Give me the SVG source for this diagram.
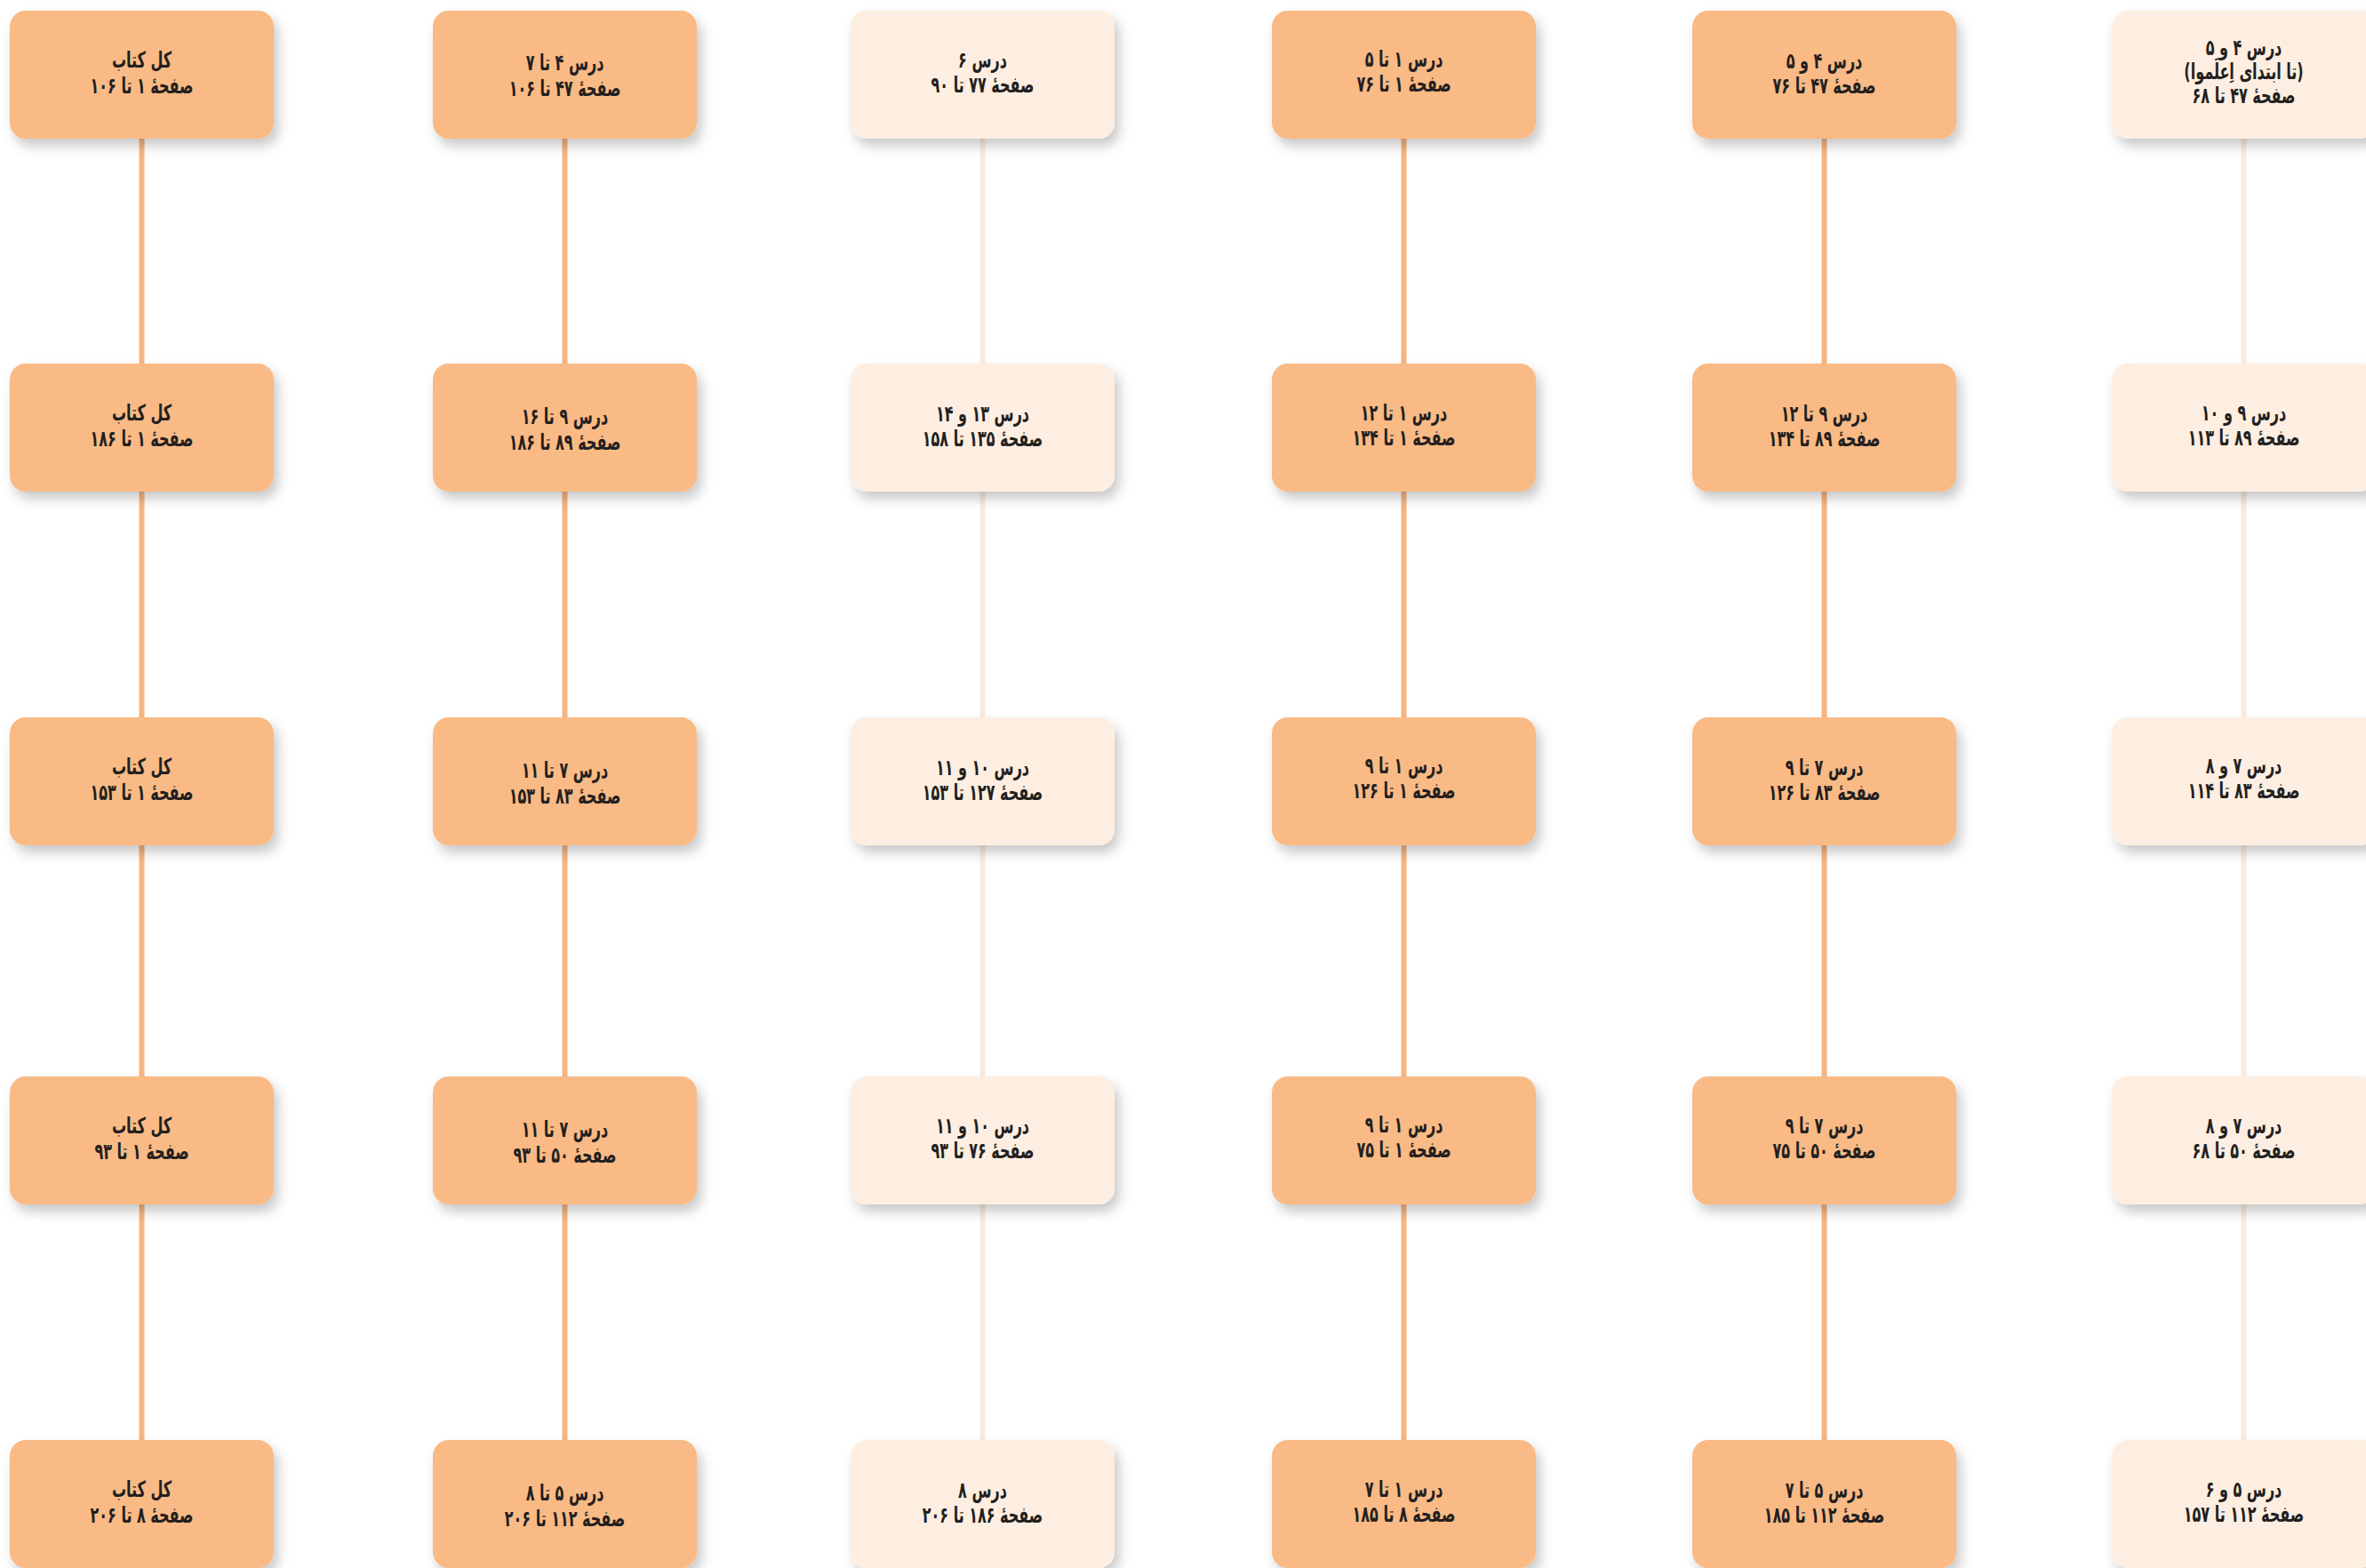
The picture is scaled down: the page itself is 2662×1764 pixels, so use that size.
<svg xmlns="http://www.w3.org/2000/svg" width="2662" height="1764" viewBox="0 0 2662 1764">
<defs>
<filter id="sh" x="-20%" y="-20%" width="150%" height="160%">
<feDropShadow dx="5" dy="8" stdDeviation="7" flood-color="#000" flood-opacity="0.22"/>
</filter>
<style>
.dark{fill:#F9BA85;filter:url(#sh)}
.light{fill:#FDEEE1;filter:url(#sh)}
.cd{stroke:#F7B581;stroke-width:6;fill:none}
.cl{stroke:#FCEBDD;stroke-width:6;fill:none}
text{font-family:"DejaVu Sans","DejaVu Sans Condensed",sans-serif;font-weight:bold;font-size:25px;fill:#231F20;text-anchor:middle;direction:rtl}
</style>
</defs>
<rect width="2662" height="1764" fill="#FFFFFF"/>
<g id="connectors">
<path class="cd" d="M159.5 156V409M159.5 553V807M159.5 951V1211M159.5 1355V1620"/>
<path class="cd" d="M635.5 156V409M635.5 553V807M635.5 951V1211M635.5 1355V1620"/>
<path class="cl" d="M1105.5 156V409M1105.5 553V807M1105.5 951V1211M1105.5 1355V1620"/>
<path class="cd" d="M1579.5 156V409M1579.5 553V807M1579.5 951V1211M1579.5 1355V1620"/>
<path class="cd" d="M2052.5 156V409M2052.5 553V807M2052.5 951V1211M2052.5 1355V1620"/>
<path class="cl" d="M2524.5 156V409M2524.5 553V807M2524.5 951V1211M2524.5 1355V1620"/>
</g>

<!-- Column 1 -->
<g id="c1r1"><rect class="dark" x="11" y="12" width="297" height="144" rx="18"/><g transform="translate(159.5 0) scale(0.64 1)"><text x="0" y="76">کل کتاب</text><text x="0" y="105">صفحهٔ ۱ تا ۱۰۶</text></g></g>
<g id="c1r2"><rect class="dark" x="11" y="409" width="297" height="144" rx="18"/><g transform="translate(159.5 0) scale(0.64 1)"><text x="0" y="473">کل کتاب</text><text x="0" y="502">صفحهٔ ۱ تا ۱۸۶</text></g></g>
<g id="c1r3"><rect class="dark" x="11" y="807" width="297" height="144" rx="18"/><g transform="translate(159.5 0) scale(0.64 1)"><text x="0" y="871">کل کتاب</text><text x="0" y="900">صفحهٔ ۱ تا ۱۵۳</text></g></g>
<g id="c1r4"><rect class="dark" x="11" y="1211" width="297" height="144" rx="18"/><g transform="translate(159.5 0) scale(0.64 1)"><text x="0" y="1275">کل کتاب</text><text x="0" y="1304">صفحهٔ ۱ تا ۹۳</text></g></g>
<g id="c1r5"><rect class="dark" x="11" y="1620" width="297" height="144" rx="18"/><g transform="translate(159.5 0) scale(0.64 1)"><text x="0" y="1684">کل کتاب</text><text x="0" y="1713">صفحهٔ ۸ تا ۲۰۶</text></g></g>

<!-- Column 2 -->
<g id="c2r1"><rect class="dark" x="487" y="12" width="297" height="144" rx="18"/><g transform="translate(635.5 0) scale(0.64 1)"><text x="0" y="79">درس ۴ تا ۷</text><text x="0" y="108">صفحهٔ ۴۷ تا ۱۰۶</text></g></g>
<g id="c2r2"><rect class="dark" x="487" y="409" width="297" height="144" rx="18"/><g transform="translate(635.5 0) scale(0.64 1)"><text x="0" y="477">درس ۹ تا ۱۶</text><text x="0" y="506">صفحهٔ ۸۹ تا ۱۸۶</text></g></g>
<g id="c2r3"><rect class="dark" x="487" y="807" width="297" height="144" rx="18"/><g transform="translate(635.5 0) scale(0.64 1)"><text x="0" y="875">درس ۷ تا ۱۱</text><text x="0" y="904">صفحهٔ ۸۳ تا ۱۵۳</text></g></g>
<g id="c2r4"><rect class="dark" x="487" y="1211" width="297" height="144" rx="18"/><g transform="translate(635.5 0) scale(0.64 1)"><text x="0" y="1279">درس ۷ تا ۱۱</text><text x="0" y="1308">صفحهٔ ۵۰ تا ۹۳</text></g></g>
<g id="c2r5"><rect class="dark" x="487" y="1620" width="297" height="144" rx="18"/><g transform="translate(635.5 0) scale(0.64 1)"><text x="0" y="1688">درس ۵ تا ۸</text><text x="0" y="1717">صفحهٔ ۱۱۲ تا ۲۰۶</text></g></g>

<!-- Column 3 -->
<g id="c3r1"><rect class="light" x="957" y="12" width="297" height="144" rx="18"/><g transform="translate(1105.5 0) scale(0.64 1)"><text x="0" y="76">درس ۶</text><text x="0" y="104">صفحهٔ ۷۷ تا ۹۰</text></g></g>
<g id="c3r2"><rect class="light" x="957" y="409" width="297" height="144" rx="18"/><g transform="translate(1105.5 0) scale(0.64 1)"><text x="0" y="474">درس ۱۳ و ۱۴</text><text x="0" y="502">صفحهٔ ۱۳۵ تا ۱۵۸</text></g></g>
<g id="c3r3"><rect class="light" x="957" y="807" width="297" height="144" rx="18"/><g transform="translate(1105.5 0) scale(0.64 1)"><text x="0" y="872">درس ۱۰ و ۱۱</text><text x="0" y="900">صفحهٔ ۱۲۷ تا ۱۵۳</text></g></g>
<g id="c3r4"><rect class="light" x="957" y="1211" width="297" height="144" rx="18"/><g transform="translate(1105.5 0) scale(0.64 1)"><text x="0" y="1275">درس ۱۰ و ۱۱</text><text x="0" y="1303">صفحهٔ ۷۶ تا ۹۳</text></g></g>
<g id="c3r5"><rect class="light" x="957" y="1620" width="297" height="144" rx="18"/><g transform="translate(1105.5 0) scale(0.64 1)"><text x="0" y="1685">درس ۸</text><text x="0" y="1713">صفحهٔ ۱۸۶ تا ۲۰۶</text></g></g>

<!-- Column 4 -->
<g id="c4r1"><rect class="dark" x="1431" y="12" width="297" height="144" rx="18"/><g transform="translate(1579.5 0) scale(0.64 1)"><text x="0" y="75">درس ۱ تا ۵</text><text x="0" y="103">صفحهٔ ۱ تا ۷۶</text></g></g>
<g id="c4r2"><rect class="dark" x="1431" y="409" width="297" height="144" rx="18"/><g transform="translate(1579.5 0) scale(0.64 1)"><text x="0" y="473">درس ۱ تا ۱۲</text><text x="0" y="501">صفحهٔ ۱ تا ۱۳۴</text></g></g>
<g id="c4r3"><rect class="dark" x="1431" y="807" width="297" height="144" rx="18"/><g transform="translate(1579.5 0) scale(0.64 1)"><text x="0" y="870">درس ۱ تا ۹</text><text x="0" y="898">صفحهٔ ۱ تا ۱۲۶</text></g></g>
<g id="c4r4"><rect class="dark" x="1431" y="1211" width="297" height="144" rx="18"/><g transform="translate(1579.5 0) scale(0.64 1)"><text x="0" y="1274">درس ۱ تا ۹</text><text x="0" y="1302">صفحهٔ ۱ تا ۷۵</text></g></g>
<g id="c4r5"><rect class="dark" x="1431" y="1620" width="297" height="144" rx="18"/><g transform="translate(1579.5 0) scale(0.64 1)"><text x="0" y="1684">درس ۱ تا ۷</text><text x="0" y="1712">صفحهٔ ۸ تا ۱۸۵</text></g></g>

<!-- Column 5 -->
<g id="c5r1"><rect class="dark" x="1904" y="12" width="297" height="144" rx="18"/><g transform="translate(2052.5 0) scale(0.64 1)"><text x="0" y="77">درس ۴ و ۵</text><text x="0" y="105">صفحهٔ ۴۷ تا ۷۶</text></g></g>
<g id="c5r2"><rect class="dark" x="1904" y="409" width="297" height="144" rx="18"/><g transform="translate(2052.5 0) scale(0.64 1)"><text x="0" y="474">درس ۹ تا ۱۲</text><text x="0" y="502">صفحهٔ ۸۹ تا ۱۳۴</text></g></g>
<g id="c5r3"><rect class="dark" x="1904" y="807" width="297" height="144" rx="18"/><g transform="translate(2052.5 0) scale(0.64 1)"><text x="0" y="872">درس ۷ تا ۹</text><text x="0" y="900">صفحهٔ ۸۳ تا ۱۲۶</text></g></g>
<g id="c5r4"><rect class="dark" x="1904" y="1211" width="297" height="144" rx="18"/><g transform="translate(2052.5 0) scale(0.64 1)"><text x="0" y="1275">درس ۷ تا ۹</text><text x="0" y="1303">صفحهٔ ۵۰ تا ۷۵</text></g></g>
<g id="c5r5"><rect class="dark" x="1904" y="1620" width="297" height="144" rx="18"/><g transform="translate(2052.5 0) scale(0.64 1)"><text x="0" y="1685">درس ۵ تا ۷</text><text x="0" y="1713">صفحهٔ ۱۱۲ تا ۱۸۵</text></g></g>

<!-- Column 6 -->
<g id="c6r1"><rect class="light" x="2376" y="12" width="297" height="144" rx="18"/><g transform="translate(2524.5 0) scale(0.64 1)"><text x="0" y="62">درس ۴ و ۵</text><text x="0" y="89">(تا ابتدای اِعلَموا)</text><text x="0" y="116">صفحهٔ ۴۷ تا ۶۸</text></g></g>
<g id="c6r2"><rect class="light" x="2376" y="409" width="297" height="144" rx="18"/><g transform="translate(2524.5 0) scale(0.64 1)"><text x="0" y="473">درس ۹ و ۱۰</text><text x="0" y="501">صفحهٔ ۸۹ تا ۱۱۳</text></g></g>
<g id="c6r3"><rect class="light" x="2376" y="807" width="297" height="144" rx="18"/><g transform="translate(2524.5 0) scale(0.64 1)"><text x="0" y="870">درس ۷ و ۸</text><text x="0" y="898">صفحهٔ ۸۳ تا ۱۱۴</text></g></g>
<g id="c6r4"><rect class="light" x="2376" y="1211" width="297" height="144" rx="18"/><g transform="translate(2524.5 0) scale(0.64 1)"><text x="0" y="1275">درس ۷ و ۸</text><text x="0" y="1303">صفحهٔ ۵۰ تا ۶۸</text></g></g>
<g id="c6r5"><rect class="light" x="2376" y="1620" width="297" height="144" rx="18"/><g transform="translate(2524.5 0) scale(0.64 1)"><text x="0" y="1684">درس  ۵ و ۶</text><text x="0" y="1712">صفحهٔ ۱۱۲ تا ۱۵۷</text></g></g>
</svg>
